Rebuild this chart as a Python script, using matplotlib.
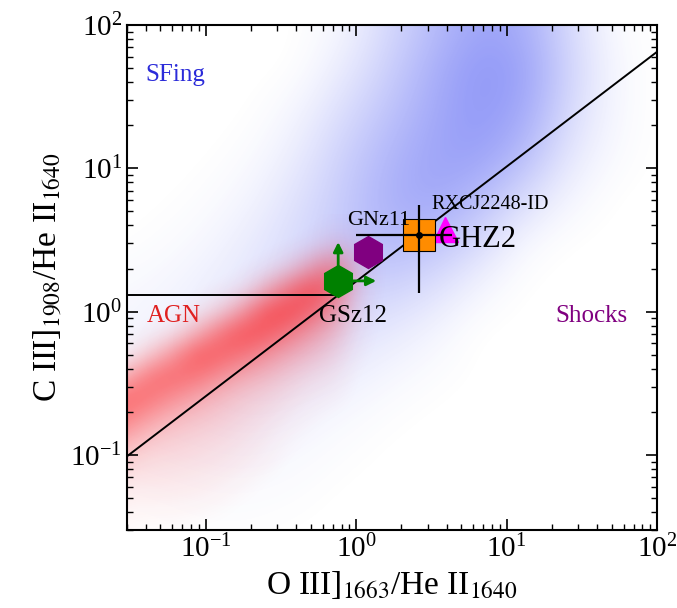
import numpy as np
import matplotlib
matplotlib.use('Agg')
import matplotlib.pyplot as plt
from matplotlib.colors import LinearSegmentedColormap

plt.rcParams['font.family'] = ['Liberation Serif', 'DejaVu Serif']
plt.rcParams['mathtext.fontset'] = 'stix'

#------ Nube SFing: densidad leida a ojo sobre grilla en log10 ------
sf_lx = [-1.6, -1.3, -1.0, -0.7, -0.4, -0.1, 0.2, 0.5, 0.8, 1.1, 1.4, 1.7, 2.0]
sf_ly = [-1.6, -1.3, -1.0, -0.7, -0.4, -0.1, 0.2, 0.5, 0.8, 1.1, 1.4, 1.7, 2.0]

# filas de abajo (ly=-1.6) hacia arriba (ly=2.0)
dens_sf = [
    [0.00, 0.00, 0.01, 0.01, 0.00, 0.00, 0.00, 0.00, 0.00, 0.00, 0.00, 0.00, 0.00],
    [0.01, 0.02, 0.03, 0.03, 0.02, 0.00, 0.00, 0.00, 0.00, 0.00, 0.00, 0.00, 0.00],
    [0.04, 0.05, 0.06, 0.07, 0.05, 0.02, 0.00, 0.00, 0.00, 0.00, 0.00, 0.00, 0.00],
    [0.06, 0.08, 0.10, 0.12, 0.10, 0.06, 0.02, 0.00, 0.00, 0.00, 0.00, 0.00, 0.00],
    [0.08, 0.10, 0.12, 0.16, 0.18, 0.15, 0.08, 0.03, 0.00, 0.00, 0.00, 0.00, 0.00],
    [0.06, 0.10, 0.15, 0.20, 0.25, 0.25, 0.20, 0.10, 0.00, 0.00, 0.00, 0.00, 0.00],
    [0.04, 0.06, 0.12, 0.20, 0.30, 0.35, 0.38, 0.28, 0.10, 0.00, 0.00, 0.00, 0.00],
    [0.00, 0.02, 0.06, 0.15, 0.28, 0.42, 0.55, 0.50, 0.32, 0.06, 0.00, 0.00, 0.00],
    [0.00, 0.00, 0.02, 0.08, 0.22, 0.40, 0.60, 0.70, 0.55, 0.30, 0.08, 0.00, 0.00],
    [0.00, 0.00, 0.00, 0.03, 0.14, 0.35, 0.55, 0.70, 0.75, 0.55, 0.20, 0.04, 0.00],
    [0.00, 0.00, 0.00, 0.00, 0.07, 0.25, 0.45, 0.65, 0.80, 0.70, 0.30, 0.06, 0.00],
    [0.00, 0.00, 0.00, 0.00, 0.00, 0.14, 0.35, 0.60, 0.80, 0.75, 0.35, 0.06, 0.00],
    [0.00, 0.00, 0.00, 0.00, 0.00, 0.06, 0.28, 0.50, 0.70, 0.65, 0.30, 0.03, 0.00],
]

#------ Nube AGN: grilla mas fina ------
agn_lx = [-1.65, -1.5, -1.35, -1.2, -1.05, -0.9, -0.75, -0.6, -0.45, -0.3, -0.15, 0.0, 0.15]
agn_ly = [-1.5, -1.35, -1.2, -1.05, -0.9, -0.75, -0.6, -0.45, -0.3, -0.15, 0.0, 0.15, 0.3, 0.45, 0.6]

dens_agn = [
    [0.03, 0.02, 0.01, 0.01, 0.00, 0.00, 0.00, 0.00, 0.00, 0.00, 0.00, 0.00, 0.00],
    [0.07, 0.05, 0.05, 0.05, 0.04, 0.02, 0.00, 0.00, 0.00, 0.00, 0.00, 0.00, 0.00],
    [0.15, 0.09, 0.10, 0.09, 0.08, 0.06, 0.03, 0.00, 0.00, 0.00, 0.00, 0.00, 0.00],
    [0.27, 0.19, 0.15, 0.14, 0.12, 0.10, 0.07, 0.04, 0.00, 0.00, 0.00, 0.00, 0.00],
    [0.46, 0.33, 0.23, 0.20, 0.17, 0.14, 0.10, 0.06, 0.02, 0.00, 0.00, 0.00, 0.00],
    [0.70, 0.57, 0.41, 0.30, 0.25, 0.20, 0.15, 0.10, 0.05, 0.02, 0.00, 0.00, 0.00],
    [0.62, 0.74, 0.65, 0.51, 0.39, 0.29, 0.21, 0.16, 0.10, 0.05, 0.03, 0.00, 0.00],
    [0.16, 0.42, 0.68, 0.72, 0.65, 0.49, 0.37, 0.28, 0.19, 0.11, 0.07, 0.00, 0.00],
    [0.01, 0.05, 0.25, 0.52, 0.80, 0.75, 0.64, 0.49, 0.35, 0.24, 0.14, 0.02, 0.00],
    [0.00, 0.00, 0.02, 0.10, 0.35, 0.66, 0.84, 0.78, 0.61, 0.41, 0.25, 0.04, 0.00],
    [0.00, 0.00, 0.00, 0.00, 0.03, 0.17, 0.45, 0.82, 0.86, 0.69, 0.43, 0.07, 0.00],
    [0.00, 0.00, 0.00, 0.00, 0.00, 0.01, 0.05, 0.30, 0.62, 0.85, 0.65, 0.11, 0.00],
    [0.00, 0.00, 0.00, 0.00, 0.00, 0.00, 0.00, 0.02, 0.12, 0.37, 0.58, 0.15, 0.00],
    [0.00, 0.00, 0.00, 0.00, 0.00, 0.00, 0.00, 0.00, 0.00, 0.03, 0.15, 0.08, 0.00],
    [0.00, 0.00, 0.00, 0.00, 0.00, 0.00, 0.00, 0.00, 0.00, 0.00, 0.01, 0.01, 0.00],
]

#------ Lineas de separacion ------
div_x = [0.03, 100.0]
div_y = [0.098, 65.0]
hor_x = [0.03, 0.78]
hor_y = [1.3, 1.3]

#------ Galaxias ------
ghz2_x, ghz2_y = 2.63, 3.42
ghz2_xerr = [[1.63], [1.74]]
ghz2_yerr = [[2.06], [2.11]]

rxcj_x, rxcj_y = 3.92, 3.77
gnz11_x, gnz11_y = 1.20, 2.61
gsz12_x, gsz12_y = 0.76, 1.64
gsz12_xtip, gsz12_ytip = 1.36, 3.06   # limites inferiores (flechas)

xlim = (0.03, 100)
ylim = (0.03, 100)

#%%
#------ Ploteo ------
fig = plt.figure(figsize=(6.77, 6.08), dpi=100)
rect = [0.1876, 0.1283, 0.7829, 0.8306]

def extension(lx, ly):
    dx = lx[1] - lx[0]
    dy = ly[1] - ly[0]
    return [lx[0] - dx/2, lx[-1] + dx/2, ly[0] - dy/2, ly[-1] + dy/2]

# fondo: nubes en un eje lineal en log10, debajo del eje principal
ax_bg = fig.add_axes(rect, zorder=0)
cm_sf = LinearSegmentedColormap.from_list('sf', [(0.25, 0.3, 0.95, 0.0), (0.25, 0.3, 0.95, 0.72)])
cm_agn = LinearSegmentedColormap.from_list('agn', [(1.0, 0.12, 0.12, 0.0), (1.0, 0.12, 0.12, 0.9)])
ax_bg.imshow(np.array(dens_sf), extent=extension(sf_lx, sf_ly), origin='lower', aspect='auto',
             cmap=cm_sf, vmin=0, vmax=1, interpolation='bicubic')
ax_bg.imshow(np.array(dens_agn), extent=extension(agn_lx, agn_ly), origin='lower', aspect='auto',
             cmap=cm_agn, vmin=0, vmax=1, interpolation='bicubic')
ax_bg.set_xlim(np.log10(xlim))
ax_bg.set_ylim(np.log10(ylim))
ax_bg.axis('off')

ax = fig.add_axes(rect, zorder=1)
ax.patch.set_alpha(0)
ax.set_xscale('log')
ax.set_yscale('log')

ax.plot(div_x, div_y, color='black', lw=1.4, zorder=3)
ax.plot(hor_x, hor_y, color='black', lw=1.4, zorder=3)

# GSz12 con flechas de limite inferior
ax.annotate('', xy=(gsz12_x, gsz12_ytip), xytext=(gsz12_x, gsz12_y),
            arrowprops=dict(arrowstyle='-|>', color='green', lw=2, mutation_scale=14, shrinkA=0, shrinkB=0), zorder=4)
ax.annotate('', xy=(gsz12_xtip, gsz12_y), xytext=(gsz12_x, gsz12_y),
            arrowprops=dict(arrowstyle='-|>', color='green', lw=2, mutation_scale=14, shrinkA=0, shrinkB=0), zorder=4)
ax.plot(gsz12_x, gsz12_y, 'h', color='green', ms=23, mec='green', zorder=5)

ax.plot(gnz11_x, gnz11_y, 'h', color='purple', ms=23, mec='purple', zorder=5)
ax.plot(rxcj_x, rxcj_y, '^', color='magenta', ms=18, mec='magenta', zorder=5)
ax.plot(ghz2_x, ghz2_y, 's', color='darkorange', ms=23, mec='black', mew=0.8, zorder=6)
ax.errorbar(ghz2_x, ghz2_y, xerr=ghz2_xerr, yerr=ghz2_yerr, fmt='o', color='black',
            ms=4, elinewidth=1.6, capsize=0, zorder=7)

ax.text(gsz12_x * 1.26, 0.94, 'GSz12', fontsize=18, ha='center', va='center', zorder=8)
ax.text(1.42, 4.35, 'GNz11', fontsize=16, ha='center', va='center', zorder=8)
ax.text(3.55, 3.21, 'GHZ2', fontsize=22, ha='left', va='center', zorder=8)
ax.text(3.16, 5.62, 'RXCJ2248-ID', fontsize=14.5, ha='left', va='center', zorder=8)

ax.text(0.034, 0.90, 'SFing', color='#2b2bd9', fontsize=18, ha='left', va='center', transform=ax.transAxes)
ax.text(0.038, 0.424, 'AGN', color='#e02020', fontsize=18, ha='left', va='center', transform=ax.transAxes)
ax.text(0.945, 0.424, 'Shocks', color='purple', fontsize=18, ha='right', va='center', transform=ax.transAxes)

ax.set_xlim(xlim)
ax.set_ylim(ylim)
ax.tick_params(which='both', direction='in', top=True, right=True, labelsize=21)
ax.tick_params(which='major', length=8, width=1.2)
ax.tick_params(which='minor', length=4, width=1.0)
for s in ax.spines.values():
    s.set_linewidth(1.5)

ax.set_xlabel(r'O III]$_{1663}$/He II$_{1640}$', fontsize=24)
ax.set_ylabel(r'C III]$_{1908}$/He II$_{1640}$', fontsize=24)

fig.savefig('out.png', dpi=100)
